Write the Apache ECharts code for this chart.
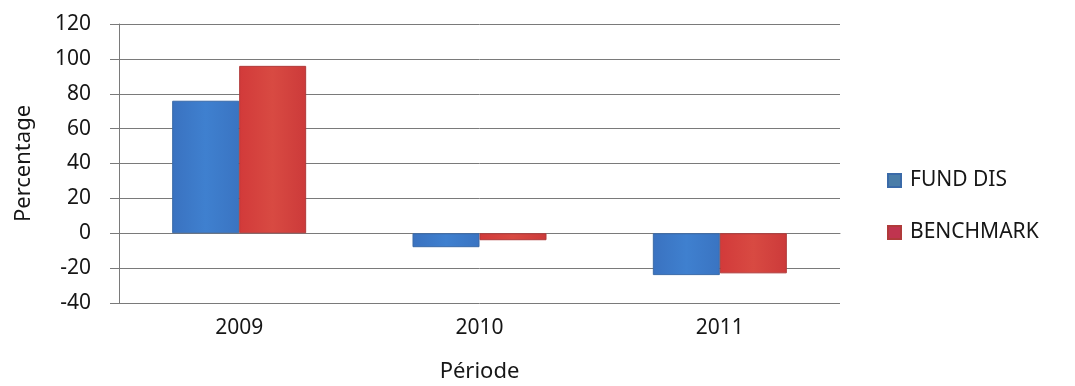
<!DOCTYPE html>
<html>
<head>
<meta charset="utf-8">
<script src="https://cdn.jsdelivr.net/npm/echarts@6/dist/echarts.min.js"></script>
<style>
  html, body { margin: 0; padding: 0; background: #ffffff; }
  #chart { width: 1075px; height: 386px; }
</style>
</head>
<body>
<div id="chart"></div>
<script>
// Annual performance: fund vs. benchmark (%)
const periods = ['2009', '2010', '2011'];
const fundDis = [76, -8, -24];
const benchmark = [96, -4, -23];
const seriesNames = ['FUND DIS', 'BENCHMARK'];

const FONT = '"Noto Sans", "Liberation Sans", sans-serif';
const TEXT = '#161616';

const chart = echarts.init(document.getElementById('chart'), null, { renderer: 'canvas' });

chart.setOption({
  backgroundColor: '#ffffff',
  animation: false,
  grid: {
    left: 119, right: 235, top: 24, bottom: 83,
    containLabel: false,
    outerBoundsMode: 'none'
  },
  legend: {
    orient: 'vertical',
    left: 882,
    top: 165,
    itemWidth: 13,
    itemHeight: 13,
    itemGap: 31,
    icon: 'rect',
    textStyle: { fontFamily: FONT, fontSize: 21, color: TEXT, padding: [0, 0, 0, 4] },
    data: [
      { name: seriesNames[0], itemStyle: { color: '#4a7da8' } },
      { name: seriesNames[1], itemStyle: { color: '#c0344f' } }
    ]
  },
  xAxis: {
    type: 'category',
    data: periods,
    name: 'Période',
    nameLocation: 'middle',
    nameGap: 58,
    nameTextStyle: { fontFamily: FONT, fontSize: 22, color: TEXT },
    axisLine: { show: true, lineStyle: { color: '#7a7a7a', width: 1 } },
    axisTick: { show: false },
    axisLabel: { fontFamily: FONT, fontSize: 21, color: TEXT, margin: 15 }
  },
  yAxis: {
    type: 'value',
    min: -40,
    max: 120,
    interval: 20,
    name: 'Percentage',
    nameLocation: 'middle',
    nameGap: 84,
    nameTextStyle: { fontFamily: FONT, fontSize: 22, color: TEXT },
    axisLine: { show: true, lineStyle: { color: '#7a7a7a', width: 1 } },
    axisTick: { show: true, length: 9, lineStyle: { color: '#7a7a7a' } },
    axisLabel: { fontFamily: FONT, fontSize: 21, color: TEXT, margin: 28 },
    splitLine: { show: true, lineStyle: { color: '#7a7a7a', width: 1 } }
  },
  series: [
    {
      name: seriesNames[0],
      type: 'bar',
      data: fundDis,
      barWidth: 67,
      barGap: '0%',
      itemStyle: {
        color: new echarts.graphic.LinearGradient(0, 0, 1, 0, [
          { offset: 0, color: '#3a72c0' },
          { offset: 0.5, color: '#3f80cf' },
          { offset: 1, color: '#3a74c2' }
        ]),
        borderColor: '#3a6aa8',
        borderWidth: 1
      }
    },
    {
      name: seriesNames[1],
      type: 'bar',
      data: benchmark,
      barWidth: 67,
      barGap: '0%',
      itemStyle: {
        color: new echarts.graphic.LinearGradient(0, 0, 1, 0, [
          { offset: 0, color: '#d23a3a' },
          { offset: 0.5, color: '#d84a42' },
          { offset: 1, color: '#cc3a3a' }
        ]),
        borderColor: '#b03a3a',
        borderWidth: 1
      }
    }
  ]
});
</script>
</body>
</html>
